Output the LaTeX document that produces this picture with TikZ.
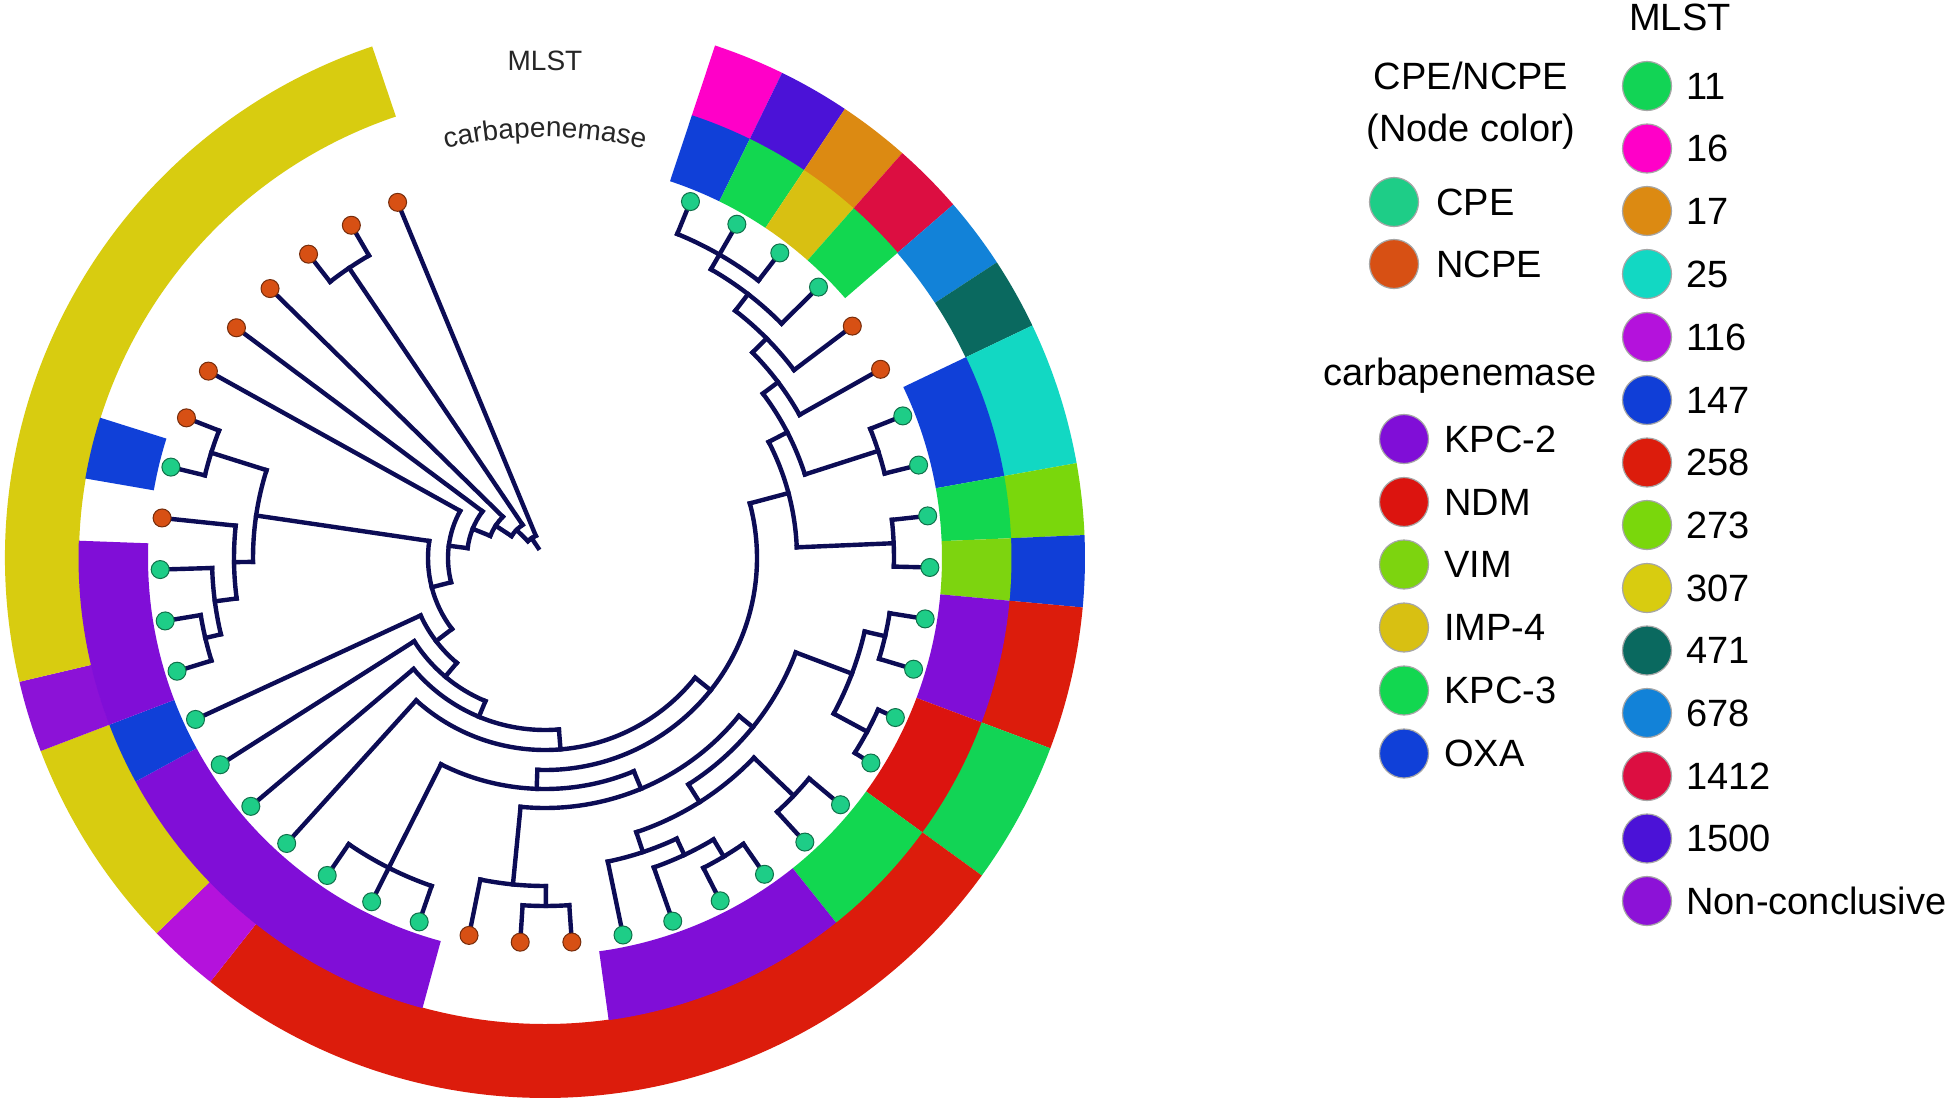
\documentclass[tikz,border=0pt]{standalone}
\usepackage{fontspec}
\setmainfont{Liberation Sans}
\usetikzlibrary{decorations.text}
\definecolor{treeline}{RGB}{12,12,85}
\definecolor{cpeC}{RGB}{30,205,135}
\definecolor{ncpeC}{RGB}{215,80,20}
\definecolor{kpcTwo}{RGB}{128,14,215}
\definecolor{ndm}{RGB}{220,20,15}
\definecolor{vim}{RGB}{125,212,15}
\definecolor{imp}{RGB}{216,192,18}
\definecolor{kpcThree}{RGB}{18,215,80}
\definecolor{oxa}{RGB}{16,64,216}
\definecolor{stA}{RGB}{18,212,85}
\definecolor{stB}{RGB}{255,0,200}
\definecolor{stC}{RGB}{220,138,18}
\definecolor{stD}{RGB}{18,216,195}
\definecolor{stE}{RGB}{180,18,220}
\definecolor{stF}{RGB}{16,62,215}
\definecolor{stG}{RGB}{220,28,12}
\definecolor{stH}{RGB}{122,215,12}
\definecolor{stI}{RGB}{216,204,16}
\definecolor{stJ}{RGB}{10,105,95}
\definecolor{stK}{RGB}{18,130,216}
\definecolor{stL}{RGB}{220,14,65}
\definecolor{stM}{RGB}{75,18,215}
\definecolor{stN}{RGB}{140,18,215}
\newcommand\inseg[3]{\fill[#3] (#1:397) arc[start angle=#1,end angle=#2,radius=397] -- (#2:466.5) arc[start angle=#2,end angle=#1,radius=466.5] -- cycle;}
\newcommand\outseg[3]{\fill[#3] (#1:466) arc[start angle=#1,end angle=#2,radius=466] -- (#2:540) arc[start angle=#2,end angle=#1,radius=540] -- cycle;}
\newcommand\tarc[3]{\draw[br] (#2:#1) arc[start angle=#2,end angle=#3,radius=#1];}
\newcommand\tstem[3]{\draw[br] (#1:#2) -- (#1:#3);}
\begin{document}
\begin{tikzpicture}[x=0.5pt,y=0.5pt,
  br/.style={draw=treeline,line width=2.2pt,line cap=rect},
  cpe/.style={circle,inner sep=0pt,minimum size=9pt,fill=cpeC,draw=cpeC!55!black,line width=0.5pt},
  ncpe/.style={circle,inner sep=0pt,minimum size=9pt,fill=ncpeC,draw=ncpeC!55!black,line width=0.5pt},
  lg/.style={font=\fontsize{19}{22}\selectfont,inner sep=0pt},
  lgdot/.style={circle,minimum size=24.5pt,inner sep=0pt,draw=black!35,line width=0.6pt}]
\fill[white] (0,0) rectangle (1955,-1103);
\useasboundingbox (0,0) rectangle (1955,-1103);
\begin{scope}[shift={(545,-558)}]
% ---- outer ring: MLST
\outseg{71.645}{63.955}{stB}
\outseg{63.955}{56.265}{stM}
\outseg{56.265}{48.575}{stC}
\outseg{48.575}{40.885}{stL}
\outseg{40.885}{33.195}{stK}
\outseg{33.195}{25.505}{stJ}
\outseg{25.505}{10.125}{stD}
\outseg{10.125}{2.435}{stH}
\outseg{2.435}{-5.255}{stF}
\outseg{-5.255}{-20.635}{stG}
\outseg{-20.635}{-36.015}{stA}
\outseg{-36.015}{-128.295}{stG}
\outseg{-128.295}{-135.985}{stE}
\outseg{-135.985}{-159.055}{stI}
\outseg{-159.055}{-166.745}{stN}
\outseg{-166.745}{-251.335}{stI}
% ---- inner ring: carbapenemase
\inseg{71.645}{63.955}{oxa}
\inseg{63.955}{56.265}{kpcThree}
\inseg{56.265}{48.575}{imp}
\inseg{48.575}{40.885}{kpcThree}
\inseg{25.505}{10.125}{oxa}
\inseg{10.125}{2.435}{kpcThree}
\inseg{2.435}{-5.255}{vim}
\inseg{-5.255}{-20.635}{kpcTwo}
\inseg{-20.635}{-36.015}{ndm}
\inseg{-36.015}{-51.395}{kpcThree}
\inseg{-51.395}{-82.155}{kpcTwo}
\inseg{-105.225}{-151.365}{kpcTwo}
\inseg{-151.365}{-159.055}{oxa}
\inseg{-159.055}{-182.125}{kpcTwo}
\inseg{-189.815}{-197.505}{oxa}
% ---- ring labels
\node[font=\fontsize{14}{16}\selectfont,inner sep=0pt,text=black!85] (mlstlbl) at (90:497) {MLST};
\path[decorate,decoration={text along path,text align=center,
  text={|\fontsize{14}{16}\selectfont\color{black!85}|carbapenemase}}]
  (104:421) arc[start angle=104,end angle=76,radius=421];
% ---- leaf branches
\foreach \i/\r in {1/350,2/333,3/350,4/333,5/312,6/292,7/350,8/350,9/349,10/349,
  11/349,12/349,13/366,14/366,15/344,16/344,17/348,18/348,19/328,20/310,
  21/348,22/348,23/328,24/347,25/231,26/347,27/192,28/172,29/155,30/137,
  31/349,32/349,33/333,34/311,35/350,36/350,37/97,38/78,39/59,40/350,41/350,42/24}{
  \pgfmathsetmacro\a{67.8-7.69*(\i-1)}
  \draw[br] (\a:\r) -- (\a:385);
}
% ---- clade arcs (radius, from, to)
\tarc{350}{67.80}{52.42}
\tarc{333}{60.11}{44.73}
\tarc{312}{52.42}{37.04}
\tarc{292}{44.73}{29.35}
\tarc{350}{21.66}{13.97}
\tarc{273}{37.04}{17.82}
\tarc{349}{6.28}{-1.41}
\tarc{252}{27.43}{2.43}
\tarc{349}{-9.10}{-16.79}
\tarc{366}{-24.48}{-32.17}
\tarc{328}{-12.95}{-28.33}
\tarc{344}{-39.86}{-47.55}
\tarc{348}{-55.24}{-62.93}
\tarc{328}{-59.09}{-70.62}
\tarc{310}{-64.86}{-78.31}
\tarc{289}{-43.71}{-71.58}
\tarc{268}{-20.64}{-57.65}
\tarc{348}{-86.00}{-93.69}
\tarc{328}{-89.85}{-101.38}
\tarc{250}{-39.14}{-95.61}
\tarc{347}{-109.07}{-124.45}
\tarc{231}{-67.38}{-116.76}
\tarc{212}{14.93}{-92.07}
\tarc{192}{-38.57}{-132.14}
\tarc{172}{-85.36}{-139.83}
\tarc{155}{-112.60}{-147.52}
\tarc{137}{-130.06}{-155.21}
\tarc{349}{-162.90}{-170.59}
\tarc{333}{-166.75}{-178.28}
\tarc{311}{-172.52}{-185.97}
\tarc{350}{-193.66}{-201.35}
\tarc{292}{-179.24}{-197.51}
\tarc{117}{-142.64}{-188.37}
\tarc{97}{-165.51}{-209.04}
\tarc{78}{-187.27}{-216.73}
\tarc{59}{-202.00}{-224.42}
\tarc{350}{-232.11}{-239.80}
\tarc{40}{-213.21}{-235.96}
\tarc{24}{-224.58}{-247.49}
% ---- clade stems (angle, inner r, outer r)
\tstem{52.42}{312}{333}
\tstem{44.73}{292}{312}
\tstem{37.04}{273}{292}
\tstem{17.82}{273}{350}
\tstem{27.43}{252}{273}
\tstem{2.43}{252}{349}
\tstem{14.93}{212}{252}
\tstem{-12.95}{328}{349}
\tstem{-28.33}{328}{366}
\tstem{-20.64}{268}{328}
\tstem{-43.71}{289}{344}
\tstem{-59.09}{328}{348}
\tstem{-64.86}{310}{328}
\tstem{-71.58}{289}{310}
\tstem{-57.65}{268}{289}
\tstem{-39.14}{250}{268}
\tstem{-89.85}{328}{348}
\tstem{-95.61}{250}{328}
\tstem{-67.38}{231}{250}
\tstem{-92.07}{212}{231}
\tstem{-38.57}{192}{212}
\tstem{-85.36}{172}{192}
\tstem{-112.60}{155}{172}
\tstem{-130.06}{137}{155}
\tstem{-142.64}{117}{137}
\tstem{-166.75}{333}{349}
\tstem{-172.52}{311}{333}
\tstem{-179.24}{292}{311}
\tstem{-197.51}{292}{350}
\tstem{-188.37}{117}{292}
\tstem{-165.51}{97}{117}
\tstem{-187.27}{78}{97}
\tstem{-202.00}{59}{78}
\tstem{-213.21}{40}{59}
\tstem{-235.96}{40}{350}
\tstem{-224.58}{24}{40}
\tstem{-236.00}{12}{24}
% ---- leaf dots
\foreach \i/\t in {1/cpe,2/cpe,3/cpe,4/cpe,5/ncpe,6/ncpe,7/cpe,8/cpe,9/cpe,10/cpe,
  11/cpe,12/cpe,13/cpe,14/cpe,15/cpe,16/cpe,17/cpe,18/cpe,19/cpe,20/cpe,
  21/ncpe,22/ncpe,23/ncpe,24/cpe,25/cpe,26/cpe,27/cpe,28/cpe,29/cpe,30/cpe,
  31/cpe,32/cpe,33/cpe,34/ncpe,35/cpe,36/ncpe,37/ncpe,38/ncpe,39/ncpe,40/ncpe,41/ncpe,42/ncpe}{
  \pgfmathsetmacro\a{67.8-7.69*(\i-1)}
  \node[\t] (l\i) at (\a:385) {};
}
\end{scope}
% ---- legend
\node[lg,anchor=base] (hdcpe) at (1471,-89) {CPE/NCPE};
\node[lg,anchor=base] (hdnode) at (1471,-141) {(Node color)};
\node[lgdot,fill=cpeC] (dcpe) at (1394,-202) {};
\node[lg,anchor=base west] (tcpe) at (1436,-215) {CPE};
\node[lgdot,fill=ncpeC] (dncpe) at (1394,-264) {};
\node[lg,anchor=base west] (tncpe) at (1436,-277) {NCPE};
\node[lg,anchor=base] (hdcarb) at (1460,-385) {carbapenemase};
\foreach \y/\c/\t [count=\k] in {439/kpcTwo/KPC-2,502/ndm/NDM,564.5/vim/VIM,627.5/imp/IMP-4,690.5/kpcThree/KPC-3,753.5/oxa/OXA}{
  \node[lgdot,fill=\c] (cd\k) at (1404,-\y) {};
  \node[lg,anchor=base west] (ct\k) at (1444,-\y-13) {\t};
}
\node[lg,anchor=base] (hdmlst) at (1680,-30) {MLST};
\foreach \y/\c/\t [count=\k] in {86/stA/11,148.5/stB/16,211/stC/17,274/stD/25,337/stE/116,400/stF/147,462.5/stG/258,525/stH/273,588/stI/307,650.5/stJ/471,713/stK/678,776/stL/1412,838.5/stM/1500,901/stN/Non-conclusive}{
  \node[lgdot,fill=\c] (md\k) at (1647,-\y) {};
  \node[lg,anchor=base west] (mt\k) at (1686,-\y-13) {\t};
}
\end{tikzpicture}
\end{document}
